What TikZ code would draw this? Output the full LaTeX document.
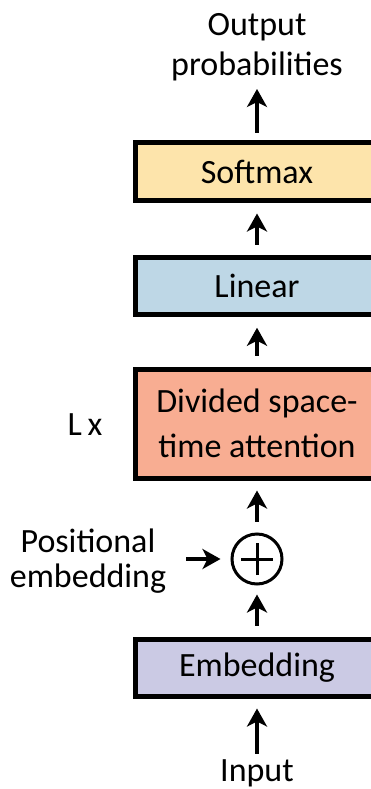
\documentclass[tikz,border=0pt]{standalone}
\usepackage{fontspec}
\setmainfont{Carlito}
\usetikzlibrary{arrows.meta}
\definecolor{softc}{HTML}{FDE4AB}
\definecolor{linc}{HTML}{BED7E6}
\definecolor{attc}{HTML}{F8AD92}
\definecolor{embc}{HTML}{CBCAE4}
\tikzset{
  blk/.style={draw=black, line width=5pt, minimum width=243pt, inner sep=0pt, align=center, font=\fontsize{34}{45}\selectfont},
  lbl/.style={inner sep=2pt, align=center, font=\fontsize{34}{40}\selectfont},
  arr/.style={line width=4pt, -{Stealth[length=18pt,width=20pt,inset=5pt]}, shorten <=10pt, shorten >=10pt},
}
\begin{document}
\begin{tikzpicture}[x=1pt,y=-1pt]
\useasboundingbox (0,0) rectangle (371,789);
\clip (0,0) rectangle (371,789);
\node[lbl] (out) at (257,47) {Output\\probabilities};
\node[blk, fill=softc, minimum height=58pt] (soft) at (257,171.5) {Softmax};
\node[blk, fill=linc, minimum height=56.5pt] (lin) at (257,286) {Linear};
\node[blk, fill=attc, minimum height=109pt] (att) at (257,423.5) {Divided space-\\time attention};
\node[lbl] (lx) at (85,425) {L\,x};
\node[draw, circle, line width=3pt, minimum size=50pt, inner sep=0pt] (plus) at (257,559) {};
\draw[line width=3pt] ([xshift=-16pt]plus.center) -- ([xshift=16pt]plus.center)
  ([yshift=-16pt]plus.center) -- ([yshift=16pt]plus.center);
\node[lbl, font=\fontsize{34}{35}\selectfont] (pos) at (88,561) {Positional\\embedding};
\node[blk, fill=embc, minimum height=57pt] (emb) at (257,667.5) {Embedding};
\node[lbl, anchor=base] (inp) at (257,781) {Input};
\draw[arr, shorten <=3pt] (inp) -- (emb);
\draw[arr, shorten <=11pt, shorten >=9pt] (emb) -- (plus);
\draw[arr, shorten <=11pt] (plus) -- (att);
\draw[arr, shorten <=11pt, shorten >=11pt] (att) -- (lin);
\draw[arr, shorten <=10.5pt, shorten >=10.5pt] (lin) -- (soft);
\draw[arr, shorten <=7.5pt, shorten >=6pt] (soft) -- (out);
\draw[arr, shorten <=18pt, shorten >=10pt] (pos.east |- plus) -- (plus);
\end{tikzpicture}
\end{document}
